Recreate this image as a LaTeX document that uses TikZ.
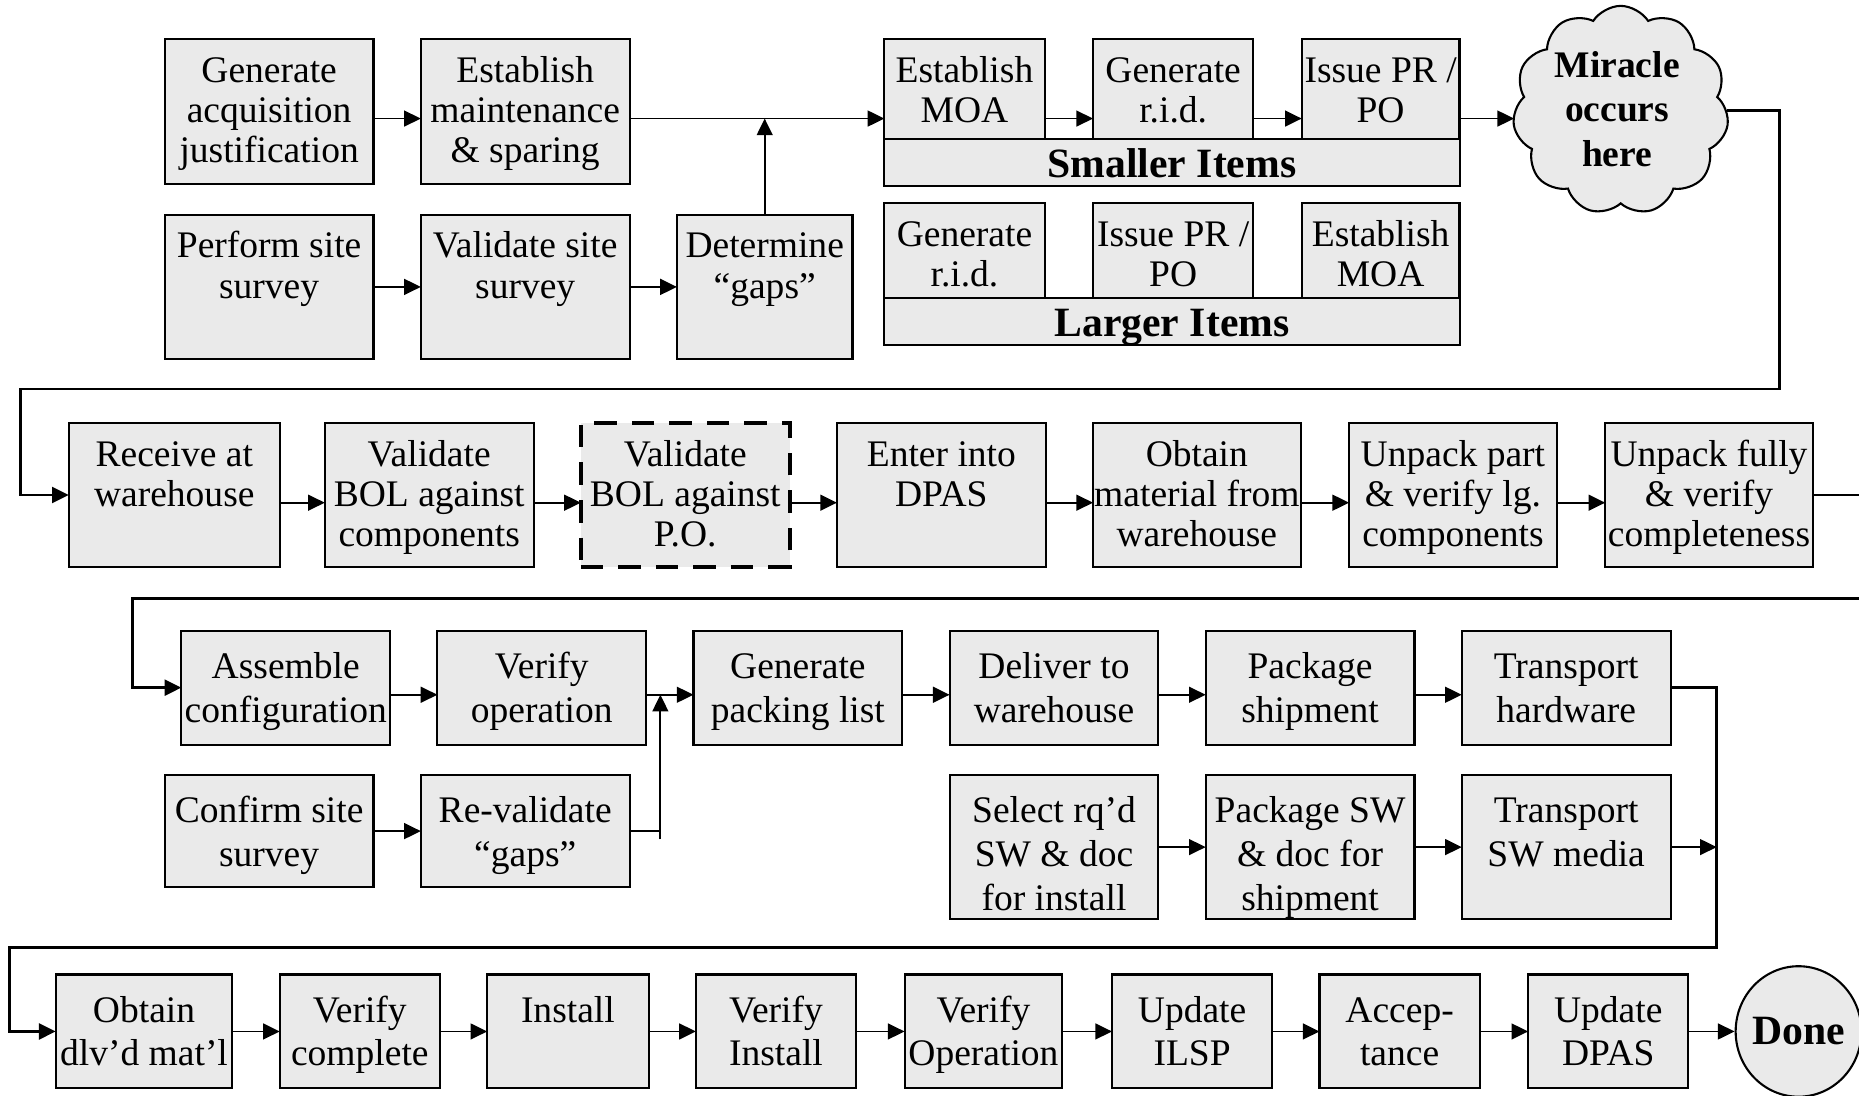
\documentclass[tikz,border=0pt]{standalone}
\usepackage{fontspec}
\setmainfont{Liberation Serif}
\usetikzlibrary{arrows.meta,shapes.symbols,shapes.geometric}
\definecolor{boxfill}{HTML}{EAEAEA}

\tikzset{
  procbox/.style={draw, fill=boxfill, line width=0.5pt, inner sep=0pt, outer sep=0pt},
  uptext/.style={inner sep=0pt, align=center, anchor=north,
    font=\fontsize{9}{9.6}\selectfont, yshift=-3.5pt},
  lowtext/.style={inner sep=0pt, align=center, anchor=north,
    font=\fontsize{9}{10.5}\selectfont, yshift=-3.85pt},
  bartext/.style={inner sep=0pt, anchor=base, font=\fontsize{10}{12}\selectfont\bfseries},
  dashbox/.style={dash pattern=on 5.4pt off 3.6pt, line width=1pt},
  flow/.style={line width=0.45pt, -{Triangle[length=4pt,width=3.8pt]}},
  link/.style={line width=0.45pt},
  ret/.style={line width=0.65pt, -{Triangle[length=4pt,width=3.8pt]}},
}

% process box given by its corners (x1,y1)-(x2,y2); text hangs from the top edge
\newcommand\pbox[8][]{%
  \pgfmathsetmacro\pbw{(#5-#3)/100}%
  \pgfmathsetmacro\pbh{(#6-#4)/100}%
  \node[procbox, minimum width=\pbw cm, minimum height=\pbh cm, #1] (#2)
    at ({(#3+#5)/2},{(#4+#6)/2}) {};
  \node[#7] (#2-t) at (#2.north) {\strut #8};
}

\begin{document}
\begin{tikzpicture}[x=0.01cm, y=-0.01cm]
\clip (0,0) rectangle (1568,924);
\fill[white] (0,0) rectangle (1568,924);

% arrow levels
\coordinate (yA) at (0,100);
\coordinate (yB) at (0,424);
\coordinate (yC) at (0,586);

% ---------- planning ----------
\pbox{gen}{139}{33}{315}{155}{uptext}{Generate\\acquisition\\justification}
\pbox{est}{355}{33}{531}{155}{uptext}{Establish\\maintenance\\\& sparing}
\pbox{site}{139}{181}{315}{303}{uptext}{Perform site\\survey}
\pbox{vsite}{355}{181}{531}{303}{uptext}{Validate site\\survey}
\pbox{gaps}{571}{181}{719}{303}{uptext}{Determine\\“gaps”}

% smaller items
\pbox{sMOA}{746}{33}{881}{117}{uptext}{Establish\\MOA}
\pbox{sRID}{922}{33}{1057}{117}{uptext}{Generate\\r.i.d.}
\pbox{sPR}{1098}{33}{1231}{117}{uptext}{Issue PR /\\PO}
\pbox{sbar}{746}{117}{1231}{157}{bartext}{}
\node[bartext] (sbar-l) at (988.5,150) {Smaller Items};

% larger items
\pbox{lRID}{746}{171}{881}{251}{uptext}{Generate\\r.i.d.}
\pbox{lPR}{922}{171}{1057}{251}{uptext}{Issue PR /\\PO}
\pbox{lMOA}{1098}{171}{1231}{251}{uptext}{Establish\\MOA}
\pbox{lbar}{746}{251}{1231}{291}{bartext}{}
\node[bartext] (lbar-l) at (988.5,284) {Larger Items};

% the cloud
\node[cloud, draw, fill=boxfill, line width=0.5pt, cloud puffs=11, cloud puff arc=115,
  aspect=1, inner sep=0pt, minimum width=1.82cm, minimum height=1.76cm] (cloud) at (1367,93) {};
\node[inner sep=0pt, align=center, font=\fontsize{9}{10.6}\selectfont\bfseries]
  (cloud-t) at (1364,92) {Miracle\\occurs\\here};

% ---------- receiving ----------
\pbox{recv}{58}{357}{236}{478}{uptext}{Receive at\\warehouse}
\pbox{vbol}{274}{357}{450}{478}{uptext}{Validate\\BOL against\\components}
\pbox[dashbox]{vpo}{490}{357}{666}{478}{uptext}{Validate\\BOL against\\P.O.}
\pbox{dpas}{706}{357}{882}{478}{uptext}{Enter into\\DPAS}
\pbox{obt}{922}{357}{1097}{478}{uptext}{Obtain\\material from\\warehouse}
\pbox{unp1}{1138}{357}{1313}{478}{uptext}{Unpack part\\\& verify lg.\\components}
\pbox{unp2}{1354}{357}{1529}{478}{uptext}{Unpack fully\\\& verify\\completeness}

% ---------- configuration and shipping ----------
\pbox{asm}{153}{532}{329}{628}{lowtext}{Assemble\\configuration}
\pbox{vop}{369}{532}{545}{628}{lowtext}{Verify\\operation}
\pbox{gpl}{585}{532}{761}{628}{lowtext}{Generate\\packing list}
\pbox{dlv}{801}{532}{977}{628}{lowtext}{Deliver to\\warehouse}
\pbox{pkg}{1017}{532}{1193}{628}{lowtext}{Package\\shipment}
\pbox{thw}{1233}{532}{1409}{628}{lowtext}{Transport\\hardware}

\pbox{conf}{139}{654}{315}{748}{lowtext}{Confirm site\\survey}
\pbox{reval}{355}{654}{531}{748}{lowtext}{Re-validate\\“gaps”}
\pbox{sel}{801}{654}{977}{775}{lowtext}{Select rq’d\\SW \& doc\\for install}
\pbox{psw}{1017}{654}{1193}{775}{lowtext}{Package SW\\\& doc for\\shipment}
\pbox{tsw}{1233}{654}{1409}{775}{lowtext}{Transport\\SW media}

% ---------- installation ----------
\pbox{odm}{47}{822}{196}{918}{lowtext}{Obtain\\dlv’d mat’l}
\pbox{vcm}{236}{822}{371}{918}{lowtext}{Verify\\complete}
\pbox{ins}{411}{822}{547}{918}{lowtext}{Install}
\pbox{vin}{587}{822}{722}{918}{lowtext}{Verify\\Install}
\pbox{vopr}{763}{822}{896}{918}{lowtext}{Verify\\Operation}
\pbox{ilsp}{938}{822}{1073}{918}{lowtext}{Update\\ILSP}
\pbox{acc}{1113}{822}{1248}{918}{lowtext}{Accep-\\tance}
\pbox{udp}{1289}{822}{1424}{918}{lowtext}{Update\\DPAS}
\node[ellipse, draw, fill=boxfill, line width=0.5pt, inner sep=0pt,
  minimum width=1.06cm, minimum height=1.10cm] (done) at (1517,870) {};
\node[inner sep=0pt, font=\fontsize{10}{12}\selectfont\bfseries] (done-t) at (1517,870) {Done};

% ---------- connectors ----------
\draw[flow] (gen.east |- yA) -- (est.west |- yA);
\draw[flow] (est.east |- yA) -- (sMOA.west |- yA);
\draw[flow] (gaps.north) -- (gaps.north |- yA);
\draw[flow] (site.east) -- (vsite.west);
\draw[flow] (vsite.east) -- (gaps.west);
\draw[flow] (sMOA.east |- yA) -- (sRID.west |- yA);
\draw[flow] (sRID.east |- yA) -- (sPR.west |- yA);
\draw[flow] (sPR.east |- yA) -- (cloud.west |- yA);

\coordinate (r1) at (1501,328);
\coordinate (l1) at (17,328);
\draw[ret] (cloud.east) -| (r1) -- (l1) |- (recv.west);

\draw[flow] (recv.east |- yB) -- (vbol.west |- yB);
\draw[flow] (vbol.east |- yB) -- (vpo.west |- yB);
\draw[flow] (vpo.east |- yB) -- (dpas.west |- yB);
\draw[flow] (dpas.east |- yB) -- (obt.west |- yB);
\draw[flow] (obt.east |- yB) -- (unp1.west |- yB);
\draw[flow] (unp1.east |- yB) -- (unp2.west |- yB);

\coordinate (r2) at (1600,505);
\coordinate (l2) at (112,505);
\draw[ret] (unp2.east) -| (r2) -- (l2) |- (asm.west);

\draw[flow] (asm.east |- yC) -- (vop.west |- yC);
\draw[flow] (vop.east |- yC) -- (gpl.west |- yC);
\draw[flow] (gpl.east |- yC) -- (dlv.west |- yC);
\draw[flow] (dlv.east |- yC) -- (pkg.west |- yC);
\draw[flow] (pkg.east |- yC) -- (thw.west |- yC);

\draw[flow] (conf.east) -- (reval.west);
\coordinate (vb) at (557,708);
\draw[link] (reval.east) -- (reval.east -| vb);
\draw[flow] (vb) -- (vb |- yC);

\draw[flow] (sel.east) -- (psw.west);
\draw[flow] (psw.east) -- (tsw.west);

\coordinate (r3) at (1448,799);
\coordinate (l3) at (8,799);
\draw[flow] (tsw.east) -- (tsw.east -| r3);
\draw[ret] (thw.east) -| (r3) -- (l3) |- (odm.west);

\draw[flow] (odm.east) -- (vcm.west);
\draw[flow] (vcm.east) -- (ins.west);
\draw[flow] (ins.east) -- (vin.west);
\draw[flow] (vin.east) -- (vopr.west);
\draw[flow] (vopr.east) -- (ilsp.west);
\draw[flow] (ilsp.east) -- (acc.west);
\draw[flow] (acc.east) -- (udp.west);
\draw[flow] (udp.east) -- (done.west);
\end{tikzpicture}
\end{document}
